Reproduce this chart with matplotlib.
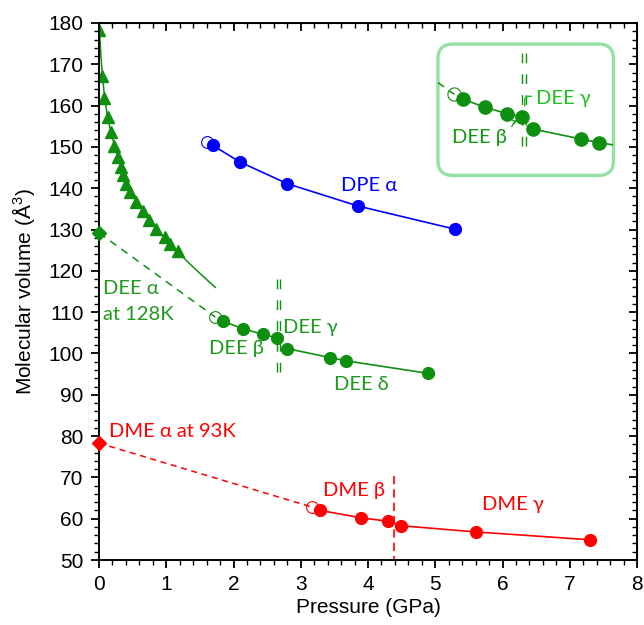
import matplotlib
matplotlib.use('Agg')
import matplotlib.pyplot as plt
from matplotlib.patches import FancyBboxPatch
from matplotlib.ticker import MultipleLocator

# DEE alpha (triangles) and the fitted curve read along it
dee_a_p = [0.00, 0.05, 0.08, 0.13, 0.18, 0.23, 0.28, 0.32, 0.36, 0.40, 0.46, 0.55, 0.65, 0.75, 0.85, 0.98, 1.05, 1.17]
dee_a_v = [178.4, 167.2, 161.8, 157.3, 153.5, 150.2, 147.6, 145.2, 143.2, 141.1, 139.1, 136.7, 134.4, 132.2, 130.2, 128.2, 126.6, 124.7]
fit_p = [0.00, 0.01, 0.03, 0.05, 0.08, 0.12, 0.17, 0.23, 0.30, 0.40, 0.50, 0.62, 0.75, 0.90, 1.05, 1.20, 1.35, 1.50, 1.62, 1.73]
fit_v = [181.0, 177.5, 171.5, 167.5, 162.5, 158.0, 154.0, 150.3, 146.5, 142.0, 138.6, 135.3, 132.3, 129.4, 126.7, 124.1, 121.7, 119.4, 117.6, 116.0]

# DEE alpha at 128K and the open point it links to
dee_128_p, dee_128_v = 0.0, 129.2
dee_open_p, dee_open_v = 1.73, 108.8

# DEE beta / gamma / delta
dee_b_p = [1.84, 2.14, 2.44, 2.65]
dee_b_v = [107.8, 106.0, 104.6, 103.8]
dee_gd_p = [2.79, 3.44, 3.68, 4.89]
dee_gd_v = [101.2, 99.0, 98.2, 95.2]
dee_trans = 2.67

# DPE alpha
dpe_p = [1.69, 2.09, 2.80, 3.85, 5.29]
dpe_v = [150.4, 146.4, 141.1, 135.7, 130.1]
dpe_open_p, dpe_open_v = 1.60, 151.1

# DME
dme_93_p, dme_93_v = 0.0, 78.3
dme_open_p, dme_open_v = 3.17, 62.8
dme_b_p = [3.29, 3.90, 4.29]
dme_b_v = [62.0, 60.2, 59.4]
dme_g_p = [4.49, 5.60, 7.30]
dme_g_v = [58.3, 56.8, 54.9]
dme_trans = 4.39

green = '#0f8f0f'
gtext = '#1f9a1f'
blue = '#0000ff'
red = '#ff0000'
lab_font = 'Lato'
ms = 8.5

plt.rcParams['font.family'] = ['Liberation Sans', 'DejaVu Sans']
plt.rcParams['mathtext.default'] = 'regular'

fig = plt.figure(figsize=(6.44, 6.25), dpi=100)
ax = fig.add_axes([99 / 644, 1 - 560 / 625, 538 / 644, 537 / 625])


def draw_dee_phases(a, size):
    a.plot([dee_128_p, dee_open_p], [dee_128_v, dee_open_v], color=green, lw=1.1, dashes=(5, 4))
    a.plot(dee_open_p, dee_open_v, 'o', mfc='none', mec=green, mew=0.8, ms=size)
    a.plot(dee_b_p, dee_b_v, '-o', color=green, lw=1.2, ms=size)
    a.plot(dee_gd_p, dee_gd_v, '-o', color=green, lw=1.2, ms=size)
    for dx in (-0.025, 0.025):
        a.plot([dee_trans + dx] * 2, [118.0, 95.4], color=green, lw=1.0, dashes=(7, 8))


ax.plot(fit_p, fit_v, color=green, lw=1.1)
ax.plot(dee_a_p, dee_a_v, '^', color=green, ms=8.5, mec=green)
draw_dee_phases(ax, ms)
ax.plot(dee_128_p, dee_128_v, 'D', color=green, ms=7, clip_on=False, zorder=5)

ax.plot(dpe_open_p, dpe_open_v, 'o', mfc='none', mec=blue, mew=0.8, ms=ms)
ax.plot(dpe_p, dpe_v, '-o', color=blue, lw=1.2, ms=ms)

ax.plot([dme_93_p, dme_open_p], [dme_93_v, dme_open_v], color=red, lw=1.1, dashes=(4, 3))
ax.plot(dme_93_p, dme_93_v, 'D', color=red, ms=7, clip_on=False, zorder=5)
ax.plot(dme_open_p, dme_open_v, 'o', mfc='none', mec=red, mew=0.8, ms=ms)
ax.plot(dme_b_p + dme_g_p, dme_b_v + dme_g_v, '-o', color=red, lw=1.2, ms=ms)
ax.plot([dme_trans] * 2, [70.3, 50], color=red, lw=1.2, dashes=(5, 3))

tk = dict(fontsize=14.5, family=lab_font)
ax.text(4.02, 140.6, 'DPE α', color=blue, ha='center', va='center', **tk)
ax.text(0.06, 115.8, 'DEE α', color=gtext, ha='left', va='center', **tk)
ax.text(0.06, 109.4, 'at 128K', color=gtext, ha='left', va='center', **tk)
ax.text(2.05, 101.2, 'DEE β', color=gtext, ha='center', va='center', **tk)
ax.text(2.73, 106.4, 'DEE γ', color=gtext, ha='left', va='center', **tk)
ax.text(3.90, 92.4, 'DEE δ', color=gtext, ha='center', va='center', **tk)
ax.text(0.15, 81.0, 'DME α at 93K', color=red, ha='left', va='center', **tk)
ax.text(3.79, 66.9, 'DME β', color=red, ha='center', va='center', **tk)
ax.text(6.15, 63.4, 'DME γ', color=red, ha='center', va='center', **tk)

# magnified copy of the DEE beta/gamma region
ins = ax.inset_axes([5.04, 143.1, 2.61, 31.8], transform=ax.transData)
draw_dee_phases(ins, 9.5)
ins.set_xlim(1.507, 3.88)
ins.set_ylim(90.98, 119.9)
ins.axis('off')
ins.add_patch(FancyBboxPatch((0, 0), 1, 1, boxstyle='round,pad=0,rounding_size=0.085',
                             mutation_aspect=175 / 131, transform=ins.transAxes,
                             fc='none', ec='#92e0a2', lw=2.4, clip_on=False))
ins.text(2.835, 107.9, 'DEE γ', color='#22bb22', ha='left', va='center', **tk)
ins.text(2.065, 99.25, 'DEE β', color='#119911', ha='center', va='center', **tk)
ins.annotate('', xy=(2.68, 105.6), xytext=(2.81, 108.4),
             arrowprops=dict(arrowstyle='-', color='#22bb22', lw=1.0,
                             connectionstyle='angle,angleA=180,angleB=90,rad=4'))
ins.annotate('', xy=(2.62, 103.2), xytext=(2.50, 101.1),
             arrowprops=dict(arrowstyle='->', color='#119911', lw=0.9,
                             connectionstyle='arc3,rad=-0.4', mutation_scale=6))

ax.set_xlim(0, 8)
ax.set_ylim(50, 180)
ax.xaxis.set_major_locator(MultipleLocator(1))
ax.xaxis.set_minor_locator(MultipleLocator(0.2))
ax.yaxis.set_major_locator(MultipleLocator(10))
ax.yaxis.set_minor_locator(MultipleLocator(2))
ax.tick_params(which='major', direction='out', length=6, width=1.3, labelsize=15, pad=5)
ax.tick_params(which='minor', direction='out', length=3.5, width=1.0)
for s in ax.spines.values():
    s.set_linewidth(1.4)

top = ax.secondary_xaxis('top')
top.xaxis.set_major_locator(MultipleLocator(1))
top.xaxis.set_minor_locator(MultipleLocator(0.2))
top.tick_params(which='major', direction='in', length=6, width=1.3, labeltop=False)
top.tick_params(which='minor', direction='in', length=3.5, width=1.0)
right = ax.secondary_yaxis('right')
right.yaxis.set_major_locator(MultipleLocator(10))
right.yaxis.set_minor_locator(MultipleLocator(2))
right.tick_params(which='major', direction='in', length=6, width=1.3, labelright=False)
right.tick_params(which='minor', direction='in', length=3.5, width=1.0)

ax.set_xlabel('Pressure (GPa)', fontsize=15, labelpad=3)
ax.set_ylabel('Molecular volume (Å$^3$)', fontsize=15, labelpad=8)

fig.savefig('out.png', dpi=100)
